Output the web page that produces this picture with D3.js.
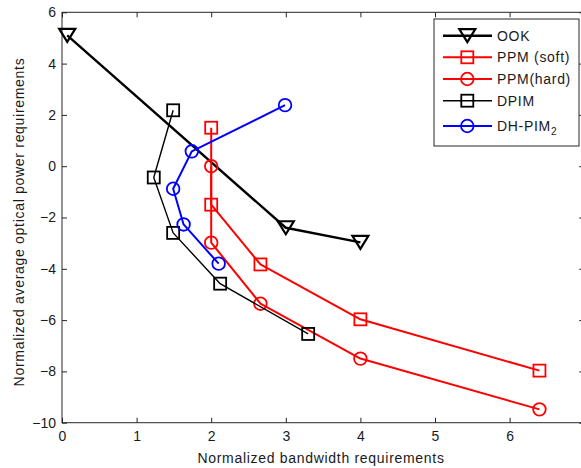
<!DOCTYPE html>
<html>
<head>
<meta charset="utf-8">
<script src="https://cdn.jsdelivr.net/npm/d3@7"></script>
<style>
  html, body { margin: 0; padding: 0; background: #fff; }
  svg { display: block; }
  text { font-family: "Liberation Sans", Arial, Helvetica, sans-serif; }
  .title, .legend-text { letter-spacing: 0.7px; }
</style>
</head>
<body>
<svg id="chart" width="581" height="468"></svg>
<script>
// Normalized bandwidth (x) vs normalized average optical power (y) per scheme
const ookX = [0.07, 3.0, 4.0];
const ookY = [5.1, -2.4, -2.97];

const ppmSoftX = [2.0, 2.0, 2.66, 4.0, 6.4];
const ppmSoftY = [1.5, -1.5, -3.83, -5.97, -7.97];

const ppmHardX = [2.0, 2.0, 2.66, 4.0, 6.4];
const ppmHardY = [0.0, -2.98, -5.36, -7.5, -9.48];

const dpimX = [1.49, 1.23, 1.49, 2.12, 3.3];
const dpimY = [2.18, -0.44, -2.6, -4.58, -6.54];

const dhpimX = [2.99, 1.74, 1.49, 1.63, 2.1];
const dhpimY = [2.38, 0.58, -0.88, -2.27, -3.8];

const xTicks = [0, 1, 2, 3, 4, 5, 6, 7];
const yTicks = [-10, -8, -6, -4, -2, 0, 2, 4, 6];

const series = [
  { name: "OOK", sub: null, xs: ookX, ys: ookY, color: "#000000", marker: "triv", lw: 2.4 },
  { name: "PPM (soft)", sub: null, xs: ppmSoftX, ys: ppmSoftY, color: "#ff0000", marker: "square", lw: 2 },
  { name: "PPM(hard)", sub: null, xs: ppmHardX, ys: ppmHardY, color: "#ff0000", marker: "circle", lw: 2 },
  { name: "DPIM", sub: null, xs: dpimX, ys: dpimY, color: "#000000", marker: "square", lw: 1.4 },
  { name: "DH-PIM", sub: "2", xs: dhpimX, ys: dhpimY, color: "#0000ff", marker: "circle", lw: 2 }
];

const svg = d3.select("#chart");
const W = 581, H = 468;
svg.append("rect").attr("width", W).attr("height", H).attr("fill", "#fff");

const plotL = 62, plotR = 584.2, plotT = 12.3, plotB = 422.7;
const x = d3.scaleLinear().domain([0, 7]).range([plotL, plotR]);
const y = d3.scaleLinear().domain([-10, 6]).range([plotB, plotT]);

const axisColor = "#262626";
const fontSize = 14;

// frame
svg.append("rect")
  .attr("x", plotL).attr("y", plotT)
  .attr("width", plotR - plotL).attr("height", plotB - plotT)
  .attr("fill", "none").attr("stroke", axisColor).attr("stroke-width", 1);

function styleAxis(g, showText) {
  g.select(".domain").remove();
  g.selectAll(".tick line").attr("stroke", axisColor);
  g.selectAll(".tick text")
    .attr("fill", "#1a1a1a")
    .style("font-size", fontSize + "px")
    .attr("display", showText ? null : "none");
}

svg.append("g").attr("transform", `translate(0,${plotB})`)
  .call(d3.axisBottom(x).tickValues(xTicks).tickSizeInner(-5).tickSizeOuter(0).tickPadding(8).tickFormat(d3.format("d")))
  .call(g => styleAxis(g, true));
svg.append("g").attr("transform", `translate(0,${plotT})`)
  .call(d3.axisTop(x).tickValues(xTicks).tickSizeInner(-5).tickSizeOuter(0))
  .call(g => styleAxis(g, false));
svg.append("g").attr("transform", `translate(${plotL},0)`)
  .call(d3.axisLeft(y).tickValues(yTicks).tickSizeInner(-5).tickSizeOuter(0).tickPadding(6).tickFormat(d3.format("d")))
  .call(g => styleAxis(g, true));
svg.append("g").attr("transform", `translate(${plotR},0)`)
  .call(d3.axisRight(y).tickValues(yTicks).tickSizeInner(-5).tickSizeOuter(0))
  .call(g => styleAxis(g, false));

// axis titles
svg.append("text").attr("class", "title")
  .attr("x", 321).attr("y", 463)
  .attr("text-anchor", "middle").attr("fill", "#1a1a1a")
  .style("font-size", fontSize + "px")
  .text("Normalized bandwidth requirements");
svg.append("text").attr("class", "title")
  .attr("transform", `translate(24,222) rotate(-90)`)
  .attr("text-anchor", "middle").attr("fill", "#1a1a1a")
  .style("font-size", fontSize + "px")
  .text("Normalized average optical power requirements");

// marker shapes
function drawMarker(g, type, cx, cy, color) {
  if (type === "square") {
    const s = 12;
    g.append("rect").attr("x", cx - s / 2).attr("y", cy - s / 2)
      .attr("width", s).attr("height", s)
      .attr("fill", "none").attr("stroke", color).attr("stroke-width", 1.8);
  } else if (type === "circle") {
    g.append("circle").attr("cx", cx).attr("cy", cy).attr("r", 6.3)
      .attr("fill", "none").attr("stroke", color).attr("stroke-width", 1.8);
  } else if (type === "triv") {
    const hw = 8, hh = 6.5;
    g.append("path")
      .attr("d", `M${cx - hw},${cy - hh}L${cx + hw},${cy - hh}L${cx},${cy + hh}Z`)
      .attr("fill", "none").attr("stroke", color).attr("stroke-width", 2.2)
      .attr("stroke-linejoin", "miter");
  }
}

const line = d3.line().x(d => x(d[0])).y(d => y(d[1]));

series.forEach(s => {
  const pts = s.xs.map((v, i) => [v, s.ys[i]]);
  const g = svg.append("g");
  g.append("path").datum(pts).attr("d", line)
    .attr("fill", "none").attr("stroke", s.color).attr("stroke-width", s.lw)
    .attr("stroke-linejoin", "round");
  pts.forEach(p => drawMarker(g, s.marker, x(p[0]), y(p[1]), s.color));
});

// legend
const lg = svg.append("g");
lg.append("rect").attr("x", 434).attr("y", 19).attr("width", 145).attr("height", 127)
  .attr("fill", "#fff").attr("stroke", axisColor).attr("stroke-width", 1);
const rowY = [35.7, 57.3, 79, 100.7, 126];
series.forEach((s, i) => {
  const ry = rowY[i];
  lg.append("line").attr("x1", 443).attr("x2", 492).attr("y1", ry).attr("y2", ry)
    .attr("stroke", s.color).attr("stroke-width", s.lw);
  drawMarker(lg, s.marker, 467.3, ry, s.color);
  const t = lg.append("text").attr("class", "legend-text").attr("x", 497).attr("y", ry + 5)
    .attr("fill", "#1a1a1a").style("font-size", fontSize + "px").text(s.name);
  if (s.sub) {
    t.append("tspan").attr("dy", 4).style("font-size", "10px").text(s.sub);
  }
});
</script>
</body>
</html>
